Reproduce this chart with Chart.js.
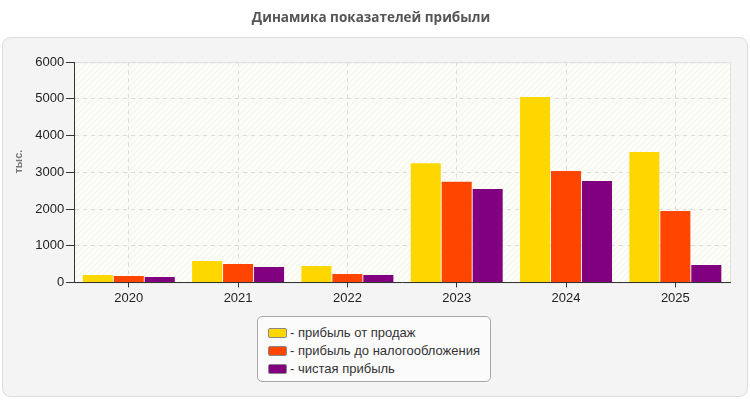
<!DOCTYPE html>
<html>
<head>
<meta charset="utf-8">
<script src="https://cdn.jsdelivr.net/npm/chart.js@4"></script>
<style>
  html, body { margin: 0; padding: 0; background: #fff; }
  #wrap { position: relative; width: 750px; height: 400px; }
  #legend {
    position: absolute; left: 257px; top: 316px; width: 234px; height: 66px;
    border: 1px solid #a8a8a8; border-radius: 5px; background: #fbfbfb;
    font: 13px "Liberation Sans", Arial, sans-serif; color: #333;
    padding-top: 7px; box-sizing: border-box;
  }
  #legend .item { height: 18px; line-height: 18px; padding-left: 10px; white-space: nowrap; }
  #legend .box {
    display: inline-block; width: 17px; height: 8px; border: 1px solid #888;
    border-radius: 2px; vertical-align: middle; margin-right: 3px; position: relative; top: -1px;
  }
</style>
</head>
<body>
<div id="wrap">
  <canvas id="chart" width="750" height="400"></canvas>
  <div id="legend"></div>
</div>
<script>
const years = ['2020', '2021', '2022', '2023', '2024', '2025'];
const salesProfit = [200, 580, 445, 3250, 5050, 3555];
const preTaxProfit = [172, 500, 227, 2740, 3035, 1945];
const netProfit = [145, 418, 200, 2545, 2765, 472];
const seriesNames = ['- прибыль от продаж', '- прибыль до налогообложения', '- чистая прибыль'];
const seriesColors = ['#FFD700', '#FF4500', '#800080'];

// background panel + hatched plot area
const panelPlugin = {
    id: 'panel',
    beforeDraw(chart){
        const ctx = chart.ctx;
        const a = chart.chartArea;
        ctx.save();
        ctx.fillStyle = '#fff';
        ctx.fillRect(0, 0, chart.width, chart.height);

        ctx.beginPath();
        ctx.roundRect(2.5, 37.5, 745, 359, 8);
        ctx.fillStyle = '#f4f4f4';
        ctx.fill();
        ctx.strokeStyle = '#dcdcdc';
        ctx.stroke();

        ctx.fillStyle = '#fdfdf8';
        ctx.fillRect(a.left, a.top, a.right - a.left, a.bottom - a.top);

        let p = document.createElement('canvas');
        p.width = 6; p.height = 6;
        let pc = p.getContext('2d');
        pc.strokeStyle = 'rgba(0,0,0,0.045)';
        pc.lineWidth = 1;
        pc.beginPath();
        pc.moveTo(0, 6); pc.lineTo(6, 0);
        pc.moveTo(-3, 3); pc.lineTo(3, -3);
        pc.moveTo(3, 9); pc.lineTo(9, 3);
        pc.stroke();
        ctx.fillStyle = ctx.createPattern(p, 'repeat');
        ctx.fillRect(a.left, a.top, a.right - a.left, a.bottom - a.top);

        ctx.strokeStyle = '#e0e0e0';
        ctx.strokeRect(a.left + 0.5, a.top + 0.5, a.right - a.left, a.bottom - a.top);
        ctx.restore();
    }
};

const element = document.getElementById('chart');
const chart = new Chart(element, {
    type: 'bar',
    data: {
        labels: years,
        datasets: [
            { label: seriesNames[0], data: salesProfit, backgroundColor: seriesColors[0] },
            { label: seriesNames[1], data: preTaxProfit, backgroundColor: seriesColors[1] },
            { label: seriesNames[2], data: netProfit, backgroundColor: seriesColors[2] }
        ]
    },
    options: {
        responsive: false,
        animation: false,
        devicePixelRatio: 1,
        layout: { padding: { left: 12, right: 20, top: 0, bottom: 91 } },
        datasets: { bar: { categoryPercentage: 0.85, barPercentage: 0.97 } },
        plugins: {
            legend: { display: false },
            tooltip: { enabled: false },
            title: {
                display: true,
                text: 'Динамика показателей прибыли',
                color: '#555',
                font: { family: '"Open Sans"', size: 13.5, weight: 'bold' },
                padding: { top: 10, bottom: 36 }
            }
        },
        scales: {
            x: {
                grid: {
                    offset: false,
                    color: '#dcdcdc',
                    tickColor: '#333',
                    tickBorderDash: [],
                    tickLength: 5
                },
                border: { color: '#333', dash: [4, 4] },
                ticks: {
                    color: '#222',
                    font: { family: '"Liberation Sans"', size: 13 },
                    padding: 3
                }
            },
            y: {
                min: 0,
                max: 6000,
                grid: {
                    color: '#dcdcdc',
                    tickColor: '#333',
                    tickBorderDash: [],
                    tickLength: 8
                },
                border: { color: '#333', dash: [4, 4] },
                ticks: {
                    stepSize: 1000,
                    color: '#222',
                    font: { family: '"Liberation Sans"', size: 13 },
                    padding: 2,
                    callback: v => String(v)
                },
                title: {
                    display: true,
                    // leading spaces lift the label a bit above centre, as in the original
                    text: '\u00a0\u00a0\u00a0\u00a0\u00a0\u00a0\u00a0тыс.',
                    color: '#777',
                    font: { family: '"Liberation Sans"', size: 11, weight: 'bold' },
                    padding: { top: 0, bottom: 8 }
                }
            }
        }
    },
    plugins: [panelPlugin]
});

// html legend built from datasets
let legend = document.getElementById('legend');
chart.data.datasets.forEach(ds => {
    let row = document.createElement('div');
    row.className = 'item';
    let box = document.createElement('span');
    box.className = 'box';
    box.style.background = ds.backgroundColor;
    row.appendChild(box);
    row.appendChild(document.createTextNode(ds.label));
    legend.appendChild(row);
});
</script>
</body>
</html>
